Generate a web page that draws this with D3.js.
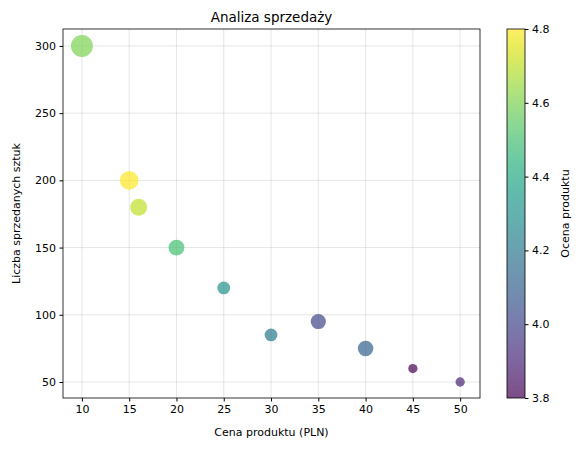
<!DOCTYPE html>
<html><head><meta charset="utf-8">
<script src="https://cdn.jsdelivr.net/npm/d3@7"></script>
<style>body{margin:0;background:#fff}text{font-family:"DejaVu Sans",sans-serif}</style>
</head><body><svg width="582" height="449"></svg>
<script>
const prices = [10, 15, 16, 20, 25, 30, 35, 40, 45, 50];
const sales = [300, 200, 180, 150, 120, 85, 95, 75, 60, 50];
const ratings = [4.6, 4.8, 4.7, 4.5, 4.3, 4.2, 4.0, 4.1, 3.8, 3.9];
const sizes = [250, 180, 150, 130, 85, 85, 120, 125, 45, 45];
const xTicks = [10, 15, 20, 25, 30, 35, 40, 45, 50];
const yTicks = [50, 100, 150, 200, 250, 300];
const cTicks = [3.8, 4.0, 4.2, 4.4, 4.6, 4.8];

const svg = d3.select("svg");
const m = {left: 63, right: 480, top: 29, bottom: 398};
const x = d3.scaleLinear().domain([8, 52.1]).range([m.left, m.right]);
const y = d3.scaleLinear().domain([38.1, 312.6]).range([m.bottom, m.top]);
const c = d3.scaleSequential(d3.interpolateViridis).domain([3.8, 4.8]);

// siatka
svg.append("g").selectAll("line").data(xTicks).join("line")
  .attr("x1", d => x(d)).attr("x2", d => x(d)).attr("y1", m.top).attr("y2", m.bottom)
  .attr("stroke", "#b0b0b0").attr("stroke-opacity", 0.4).attr("stroke-width", 0.8);
svg.append("g").selectAll("line").data(yTicks).join("line")
  .attr("y1", d => y(d)).attr("y2", d => y(d)).attr("x1", m.left).attr("x2", m.right)
  .attr("stroke", "#b0b0b0").attr("stroke-opacity", 0.4).attr("stroke-width", 0.8);

svg.append("g").selectAll("circle").data(prices).join("circle")
  .attr("cx", d => x(d)).attr("cy", (d, i) => y(sales[i]))
  .attr("r", (d, i) => Math.sqrt(sizes[i]) * 100 / 72 / 2)
  .attr("fill", (d, i) => c(ratings[i])).attr("fill-opacity", 0.7);

const ax = svg.append("g").attr("transform", `translate(0,${m.bottom})`)
  .call(d3.axisBottom(x).tickValues(xTicks).tickSize(3.5).tickPadding(3.5).tickSizeOuter(0));
const ay = svg.append("g").attr("transform", `translate(${m.left},0)`)
  .call(d3.axisLeft(y).tickValues(yTicks).tickSize(3.5).tickPadding(3.5).tickSizeOuter(0));
[ax, ay].forEach(a => { a.select(".domain").remove(); a.selectAll("text").attr("font-size", 11).attr("fill", "#000"); });
svg.append("rect").attr("x", m.left).attr("y", m.top).attr("width", m.right - m.left)
  .attr("height", m.bottom - m.top).attr("fill", "none").attr("stroke", "#000").attr("stroke-width", 0.8);

svg.append("text").attr("x", (m.left + m.right) / 2).attr("y", 22).attr("text-anchor", "middle")
  .attr("font-size", 13.5).text("Analiza sprzedaży");
svg.append("text").attr("x", (m.left + m.right) / 2).attr("y", 436).attr("text-anchor", "middle")
  .attr("font-size", 11).text("Cena produktu (PLN)");
svg.append("text").attr("transform", `translate(20,${(m.top + m.bottom) / 2}) rotate(-90)`)
  .attr("text-anchor", "middle").attr("font-size", 11).text("Liczba sprzedanych sztuk");

// pasek kolorów
const cb = {x: 507, w: 18};
const cy = d3.scaleLinear().domain([3.8, 4.8]).range([m.bottom, m.top]);
const defs = svg.append("defs").append("linearGradient").attr("id", "g")
  .attr("x1", 0).attr("y1", 1).attr("x2", 0).attr("y2", 0);
d3.range(0, 1.01, 0.05).forEach(t => defs.append("stop").attr("offset", t)
  .attr("stop-color", d3.interpolateViridis(t)));
svg.append("rect").attr("x", cb.x).attr("y", m.top).attr("width", cb.w).attr("height", m.bottom - m.top)
  .attr("fill", "url(#g)").attr("fill-opacity", 0.7).attr("stroke", "#000").attr("stroke-width", 0.8);
const ac = svg.append("g").attr("transform", `translate(${cb.x + cb.w},0)`)
  .call(d3.axisRight(cy).tickValues(cTicks).tickFormat(d3.format(".1f")).tickSize(3.5).tickPadding(3.5));
ac.select(".domain").remove();
ac.selectAll("text").attr("font-size", 11).attr("fill", "#000");
svg.append("text").attr("transform", `translate(569,${(m.top + m.bottom) / 2}) rotate(-90)`)
  .attr("text-anchor", "middle").attr("font-size", 11).text("Ocena produktu");
</script></body></html>
